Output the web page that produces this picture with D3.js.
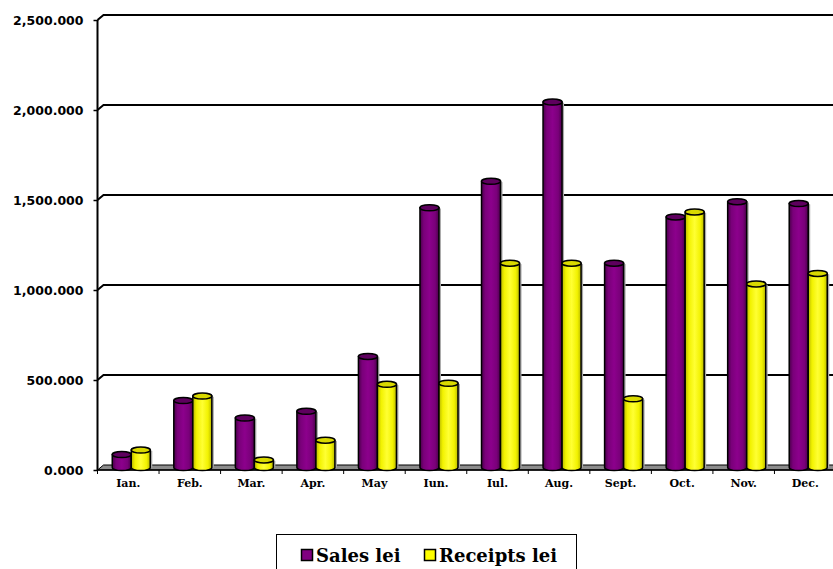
<!DOCTYPE html>
<html><head><meta charset="utf-8">
<script src="https://cdn.jsdelivr.net/npm/d3@7"></script>
<style>body{margin:0;background:#fff;}svg{display:block;}</style>
</head><body>
<svg id="c" width="833" height="569"></svg>
<script>
const months = ["Ian.","Feb.","Mar.","Apr.","May","Iun.","Iul.","Aug.","Sept.","Oct.","Nov.","Dec."];
const seriesNames = ["Sales lei","Receipts lei"];
const sales =    [72, 372, 275, 312, 617, 1443, 1590, 2030, 1135, 1392, 1477, 1466];
const receipts = [97, 397, 42, 152, 462, 468, 1135, 1135, 382, 1420, 1020, 1078];
const yTicks = [0, 500, 1000, 1500, 2000, 2500];
const colors = ["#800080", "#ffff00"];

const svg = d3.select("#c");
const W = 833;
const DX = 6, DY = -5; // 3D depth offset (front -> back)
const x0 = 97.5, x1 = 836;
const y = d3.scaleLinear().domain([0, 2500]).range([470, 20]);
const fmt = v => d3.format(",.3f")(v);

const x = d3.scaleBand().domain(months).range([x0, x1]).paddingInner(0.382).paddingOuter(0.191);
const xs = d3.scaleBand().domain(seriesNames).range([0, x.bandwidth()]);

// gradients
const defs = svg.append("defs");
function grad(id, stops) {
  const g = defs.append("linearGradient").attr("id", id).attr("x1", "0").attr("x2", "1").attr("y1", "0").attr("y2", "0");
  stops.forEach(s => g.append("stop").attr("offset", s[0]).attr("stop-color", s[1]));
}
grad("gp", [[0, "#4a004a"], [0.2, "#7a007a"], [0.5, "#8c008c"], [0.8, "#7a007a"], [1, "#4a004a"]]);
grad("gy", [[0, "#b8b800"], [0.2, "#f2f200"], [0.5, "#ffff33"], [0.8, "#f2f200"], [1, "#b8b800"]]);
const gradIds = ["url(#gp)", "url(#gy)"];
const topCols = ["#5e005e", "#d9d900"];

// gridlines (back wall) with diagonal into the front axis
yTicks.forEach(t => {
  const yf = y(t);
  if (t > 0) {
    svg.append("path")
      .attr("d", `M${x0},${yf} L${x0 + DX},${yf + DY} L${W + 10},${yf + DY}`)
      .attr("fill", "none").attr("stroke", "#000").attr("stroke-width", 2);
  }
});

// floor
svg.append("path")
  .attr("d", `M${x0},${y(0)} L${x0 + DX},${y(0) + DY} L${x1 + DX},${y(0) + DY} L${x1},${y(0)} Z`)
  .attr("fill", "#8c8c8c").attr("stroke", "#000").attr("stroke-width", 1);

// y axis (front edge)
const yAxis = d3.axisLeft(y).tickValues(yTicks).tickSize(4).tickFormat(fmt);
const ga = svg.append("g").attr("transform", `translate(${x0},0)`).call(yAxis);
ga.select(".domain").attr("stroke", "#000").attr("stroke-width", 2).attr("d", `M0,${y(2500)}V${y(0)}`);
ga.selectAll(".tick line").attr("stroke", "#000").attr("stroke-width", 1.5);
ga.selectAll(".tick text").attr("x", -14).attr("dy", "0.36em")
  .style("font-family", "'DejaVu Sans', Verdana, sans-serif").style("font-weight", "bold").style("font-size", "12.5px").attr("fill", "#000");

// x axis along front edge of floor
const xAxisG = svg.append("g").attr("transform", `translate(0,${y(0)})`);
xAxisG.append("line").attr("x1", x0).attr("x2", x1).attr("stroke", "#000").attr("stroke-width", 1.5);
const bounds = d3.range(months.length + 1).map(i => x0 + i * x.step());
xAxisG.selectAll("line.tk").data(bounds).join("line").attr("class", "tk")
  .attr("x1", d => d).attr("x2", d => d).attr("y1", 0).attr("y2", 4).attr("stroke", "#000").attr("stroke-width", 1);
xAxisG.selectAll("text").data(months).join("text")
  .attr("x", d => x(d) + x.bandwidth() / 2).attr("y", 17)
  .attr("text-anchor", "middle")
  .style("font-family", "'DejaVu Serif', serif").style("font-weight", "bold").style("font-size", "11px")
  .text(d => d);

// cylinders
const MX = DX / 2, MY = DY / 2, RY = 3;
const data = [];
months.forEach((m, i) => {
  [sales[i], receipts[i]].forEach((v, s) => data.push({ m, s, v }));
});
const bw = xs.bandwidth();
const g = svg.append("g");
data.forEach(d => {
  const left = x(d.m) + xs(seriesNames[d.s]) + MX;
  const rx = bw / 2, cx = left + rx;
  const yt = y(d.v) + MY, yb = y(0) + MY;
  const cg = g.append("g");
  // shadow
  cg.append("path")
    .attr("d", `M${left + bw},${yt} L${left + bw + 2},${yt + 1} L${left + bw + 2},${yb} L${left + bw},${yb} Z`)
    .attr("fill", "#aaa");
  // body with bottom half-ellipse
  cg.append("path")
    .attr("d", `M${left},${yt} L${left},${yb} A${rx},${RY} 0 0 0 ${left + bw},${yb} L${left + bw},${yt} Z`)
    .attr("fill", gradIds[d.s]).attr("stroke", "#000").attr("stroke-width", 1.5);
  // top
  cg.append("ellipse").attr("cx", cx).attr("cy", yt).attr("rx", rx).attr("ry", RY)
    .attr("fill", topCols[d.s]).attr("stroke", "#000").attr("stroke-width", 1.5);
});

// legend
const lg = svg.append("g");
lg.append("rect").attr("x", 276.5).attr("y", 534.5).attr("width", 300).attr("height", 45)
  .attr("fill", "#fff").attr("stroke", "#000").attr("stroke-width", 1);
const legX = [301, 424];
seriesNames.forEach((n, i) => {
  lg.append("rect").attr("x", legX[i] + 0.5).attr("y", 549.5).attr("width", 11).attr("height", 11)
    .attr("fill", colors[i]).attr("stroke", "#000").attr("stroke-width", 1.5);
  lg.append("text").attr("x", legX[i] + 15).attr("y", 562)
    .style("font-family", "'DejaVu Serif', serif").style("font-weight", "bold").style("font-size", "18px")
    .text(n);
});
</script>
</body></html>
